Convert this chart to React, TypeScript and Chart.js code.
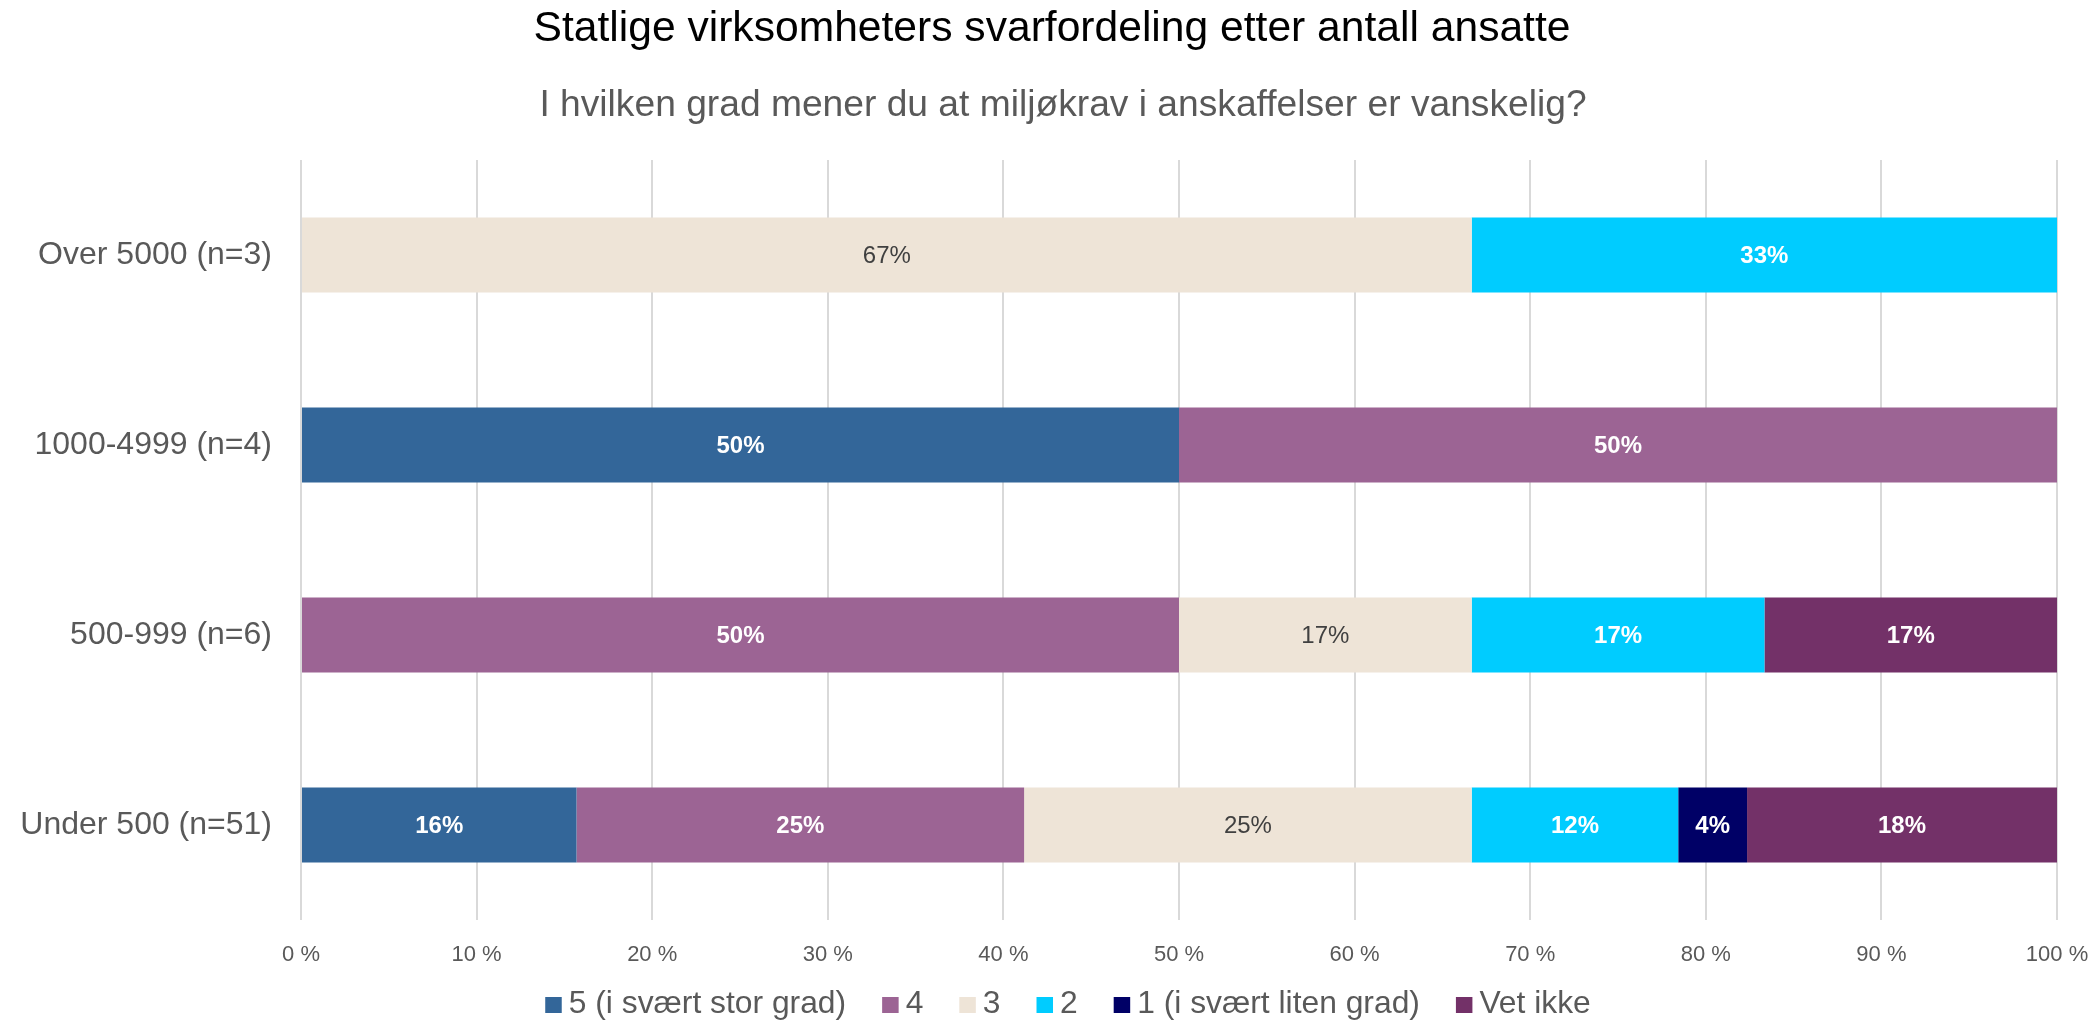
import { useEffect, useRef } from "react";
import { Chart, registerables } from "chart.js";

Chart.register(...registerables);

const titleText = "Statlige virksomheters svarfordeling etter antall ansatte";
const subtitleText = "I hvilken grad mener du at miljøkrav i anskaffelser er vanskelig?";

const categories = ["Over 5000 (n=3)", "1000-4999 (n=4)", "500-999 (n=6)", "Under 500 (n=51)"];
const seriesNames = ["5 (i svært stor grad)", "4", "3", "2", "1 (i svært liten grad)", "Vet ikke"];

const s5 = [0, 50, 0, 15.69];
const s4 = [0, 50, 50, 25.49];
const s3 = [66.67, 0, 16.67, 25.49];
const s2 = [33.33, 0, 16.67, 11.76];
const s1 = [0, 0, 0, 3.92];
const sVet = [0, 0, 16.66, 17.65];

const seriesColors = ["#336699", "#9C6494", "#EEE4D7", "#00CCFF", "#000066", "#733168"];
const labelColors = ["#FFFFFF", "#FFFFFF", "#404040", "#FFFFFF", "#FFFFFF", "#FFFFFF"];
const labelBold = [true, true, false, true, true, true];

const FONT = "'Liberation Sans', Arial, sans-serif";

const titlePlugin = {
  id: "titles",
  afterDraw(chart: any) {
    const ctx = chart.ctx;
    ctx.save();
    ctx.textAlign = "center";
    ctx.textBaseline = "middle";
    ctx.fillStyle = "#000000";
    ctx.font = `42.6px ${FONT}`;
    ctx.fillText(titleText, 1052, 29.5);
    ctx.fillStyle = "#595959";
    ctx.font = `37.2px ${FONT}`;
    ctx.fillText(subtitleText, 1063, 106);
    ctx.restore();
  },
};

const dataLabelPlugin = {
  id: "dataLabels",
  afterDatasetsDraw(chart: any) {
    const ctx = chart.ctx;
    ctx.save();
    ctx.textAlign = "center";
    ctx.textBaseline = "middle";
    chart.data.datasets.forEach((ds: any, i: number) => {
      const meta = chart.getDatasetMeta(i);
      meta.data.forEach((bar: any, j: number) => {
        const v = ds.data[j];
        if (!v) return;
        const p = bar.getProps(["x", "y", "base"], true);
        ctx.fillStyle = labelColors[i];
        ctx.font = `${labelBold[i] ? "bold " : ""}24px ${FONT}`;
        ctx.fillText(Math.round(v) + "%", (p.x + p.base) / 2, p.y + 1);
      });
    });
    ctx.restore();
  },
};

const legendPlugin = {
  id: "bottomLegend",
  afterDraw(chart: any) {
    const ctx = chart.ctx;
    ctx.save();
    ctx.font = `31.8px ${FONT}`;
    const boxW = 16.5, boxH = 16, gap = 7, spacing = 36;
    const items = chart.data.datasets.map((d: any) => ({
      text: d.label,
      color: d.backgroundColor,
      w: ctx.measureText(d.label).width,
    }));
    const total =
      items.reduce((a: number, it: any) => a + boxW + gap + it.w, 0) + spacing * (items.length - 1);
    let x = 1068 - total / 2;
    const cy = 1004;
    ctx.textBaseline = "middle";
    ctx.textAlign = "left";
    items.forEach((it: any) => {
      ctx.fillStyle = it.color;
      ctx.fillRect(x, 1005 - boxH / 2, boxW, boxH);
      x += boxW + gap;
      ctx.fillStyle = "#595959";
      ctx.fillText(it.text, x, cy);
      x += it.w + spacing;
    });
    ctx.restore();
  },
};

export default function App() {
  const ref = useRef<HTMLCanvasElement>(null);

  useEffect(() => {
    if (!ref.current) return;
    Chart.defaults.font.family = FONT;
    const seriesValues = [s5, s4, s3, s2, s1, sVet];
    const chart = new Chart(ref.current, {
      type: "bar",
      data: {
        labels: categories,
        datasets: seriesNames.map((name, i) => ({
          label: name,
          data: seriesValues[i],
          backgroundColor: seriesColors[i],
          borderWidth: 0,
          categoryPercentage: 1,
          barPercentage: 0.395,
        })),
      },
      options: {
        indexAxis: "y",
        responsive: false,
        animation: false,
        devicePixelRatio: 1,
        layout: { padding: { left: 0, right: 40, top: 160, bottom: 0 } },
        plugins: {
          legend: { display: false },
          tooltip: { enabled: false },
          title: { display: false },
          subtitle: { display: false },
        },
        scales: {
          x: {
            stacked: true,
            min: 0,
            max: 100,
            ticks: {
              stepSize: 10,
              callback: (v: any) => v + " %",
              color: "#595959",
              font: { family: FONT, size: 22 },
              padding: 22,
              maxRotation: 0,
            },
            grid: { color: "#D9D9D9", lineWidth: 2, drawTicks: false },
            border: { display: false },
            afterFit: (s: any) => {
              s.height = 102;
              s.paddingLeft = 0;
              s.paddingRight = 0;
            },
          },
          y: {
            stacked: true,
            ticks: {
              color: "#595959",
              font: { family: FONT, size: 32 },
              padding: 29,
            },
            grid: { display: false, drawTicks: false },
            border: { display: false },
            afterFit: (s: any) => {
              s.width = 301;
            },
          },
        },
      } as any,
      plugins: [dataLabelPlugin, legendPlugin, titlePlugin],
    });
    return () => chart.destroy();
  }, []);

  return (
    <div style={{ position: "absolute", left: 0, top: 0, width: 2097, height: 1022, background: "#fff" }}>
      <canvas ref={ref} width={2097} height={1022} style={{ display: "block" }} />
    </div>
  );
}
